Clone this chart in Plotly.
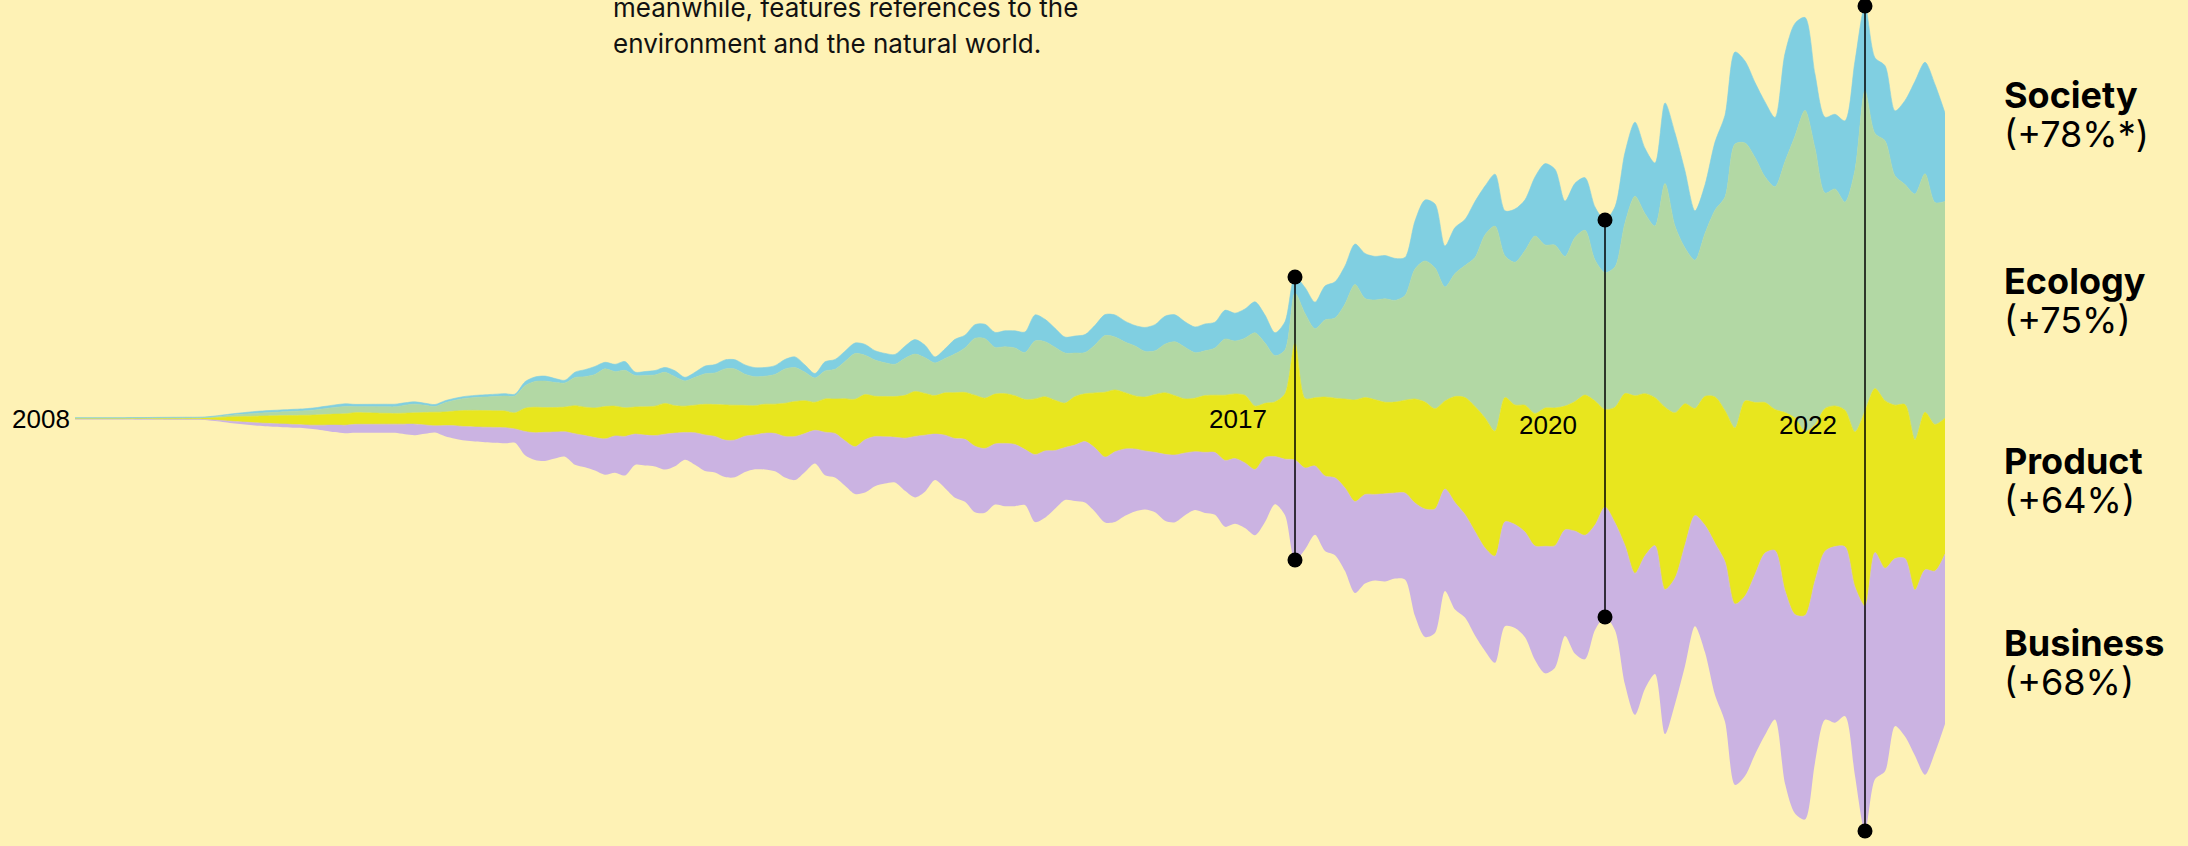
import plotly.graph_objects as go

# monthly periods, one value per period for each theme (mentions)
period = list(range(188))

society = [0.4, 0.4, 0.4, 0.4, 0.4, 0.4, 0.4, 0.4, 0.5, 0.5, 0.5, 0.5, 0.5, 0.5, 0.7, 1.0, 1.3, 1.6, 1.9, 2.0,
           2.0, 2.0, 2.0, 2.0, 2.1, 2.3, 2.5, 2.7, 2.3, 2.4, 2.5, 2.6, 2.7, 2.4, 2.3, 2.0, 2.0, 2.0, 2.0, 2.0,
           2.1, 2.2, 2.3, 2.4, 1.8, 4.0, 4.5, 5.0, 4.0, 2.7, 5.4, 7.0, 8.0, 6.6, 7.3, 8.8, 3.4, 3.9, 4.4, 4.9,
           6.0, 3.6, 5.1, 7.7, 8.3, 9.0, 9.3, 9.3, 9.1, 8.7, 8.8, 9.5, 10.7, 7.3, 4.5, 9.2, 9.8, 10.3, 10.5, 10.9,
           9.4, 9.4, 9.9, 12.2, 14.5, 12.5, 6.0, 9.7, 14.5, 12.7, 13.6, 14.4, 15.0, 16.0, 17.2, 20.5, 26.1, 22.4, 19.1, 16.0,
           17.0, 18.0, 19.6, 21.0, 22.1, 20.9, 20.5, 24.0, 26.2, 27.9, 27.0, 25.5, 25.7, 26.9, 25.8, 28.8, 27.9, 29.2, 31.0, 27.9,
           22.9, 28.4, 16.3, 26.0, 26.5, 34.0, 36.2, 38.0, 40.5, 45.0, 43.6, 43.3, 42.0, 38.0, 48.0, 61.0, 64.0, 41.0, 46.0, 46.0,
           56.0, 48.8, 52.0, 45.0, 53.2, 50.8, 59.0, 81.3, 75.8, 55.4, 54.2, 52.6, 53.0, 52.7, 60.0, 70.4, 74.0, 65.3, 63.0, 80.6,
           93.0, 77.0, 49.3, 48.5, 68.1, 81.7, 92.0, 82.0, 75.0, 74.9, 69.3, 108.0, 112.7, 93.0, 73.8, 75.8, 74.7, 81.3, 109.0, 85.0,
           75.7, 75.0, 65.0, 84.0, 112.7, 111.6, 118.0, 88.4]

ecology = [0.6, 0.6, 0.6, 0.6, 0.6, 0.6, 0.6, 0.6, 0.7, 0.7, 0.7, 0.7, 0.6, 0.6, 1.0, 1.5, 2.0, 2.4, 2.8, 3.2,
           3.5, 3.8, 4.2, 4.5, 5.1, 5.9, 6.7, 7.3, 6.0, 6.1, 6.3, 6.5, 6.6, 8.0, 8.7, 7.2, 5.7, 9.2, 10.8, 12.1,
           12.9, 13.6, 14.3, 15.0, 16.9, 22.5, 25.7, 26.5, 25.0, 24.1, 28.1, 30.5, 33.5, 37.7, 34.5, 37.5, 31.5, 31.4, 31.2, 31.1,
           28.9, 25.2, 27.8, 30.5, 31.6, 36.0, 36.2, 31.2, 28.9, 28.0, 29.7, 34.3, 33.9, 28.4, 24.3, 27.9, 29.7, 37.2, 45.8, 39.2,
           36.2, 33.7, 32.2, 37.0, 37.3, 35.7, 32.7, 34.3, 38.8, 44.5, 57.0, 59.5, 46.7, 46.9, 47.7, 47.0, 57.9, 55.0, 52.9, 50.0,
           43.5, 41.2, 48.0, 56.6, 52.9, 50.6, 49.9, 45.6, 43.7, 48.6, 53.9, 51.6, 45.5, 44.7, 47.2, 56.2, 52.8, 57.2, 73.3, 60.3,
           46.2, 43.8, 50.0, 85.0, 69.0, 77.0, 80.1, 95.0, 115.5, 99.0, 99.7, 103.4, 101.7, 104.7, 130.0, 141.0, 140.7, 114.0, 123.0, 132.0,
           149.0, 183.0, 205.0, 141.7, 142.8, 154.6, 177.5, 163.1, 162.8, 149.6, 164.0, 164.8, 141.0, 136.8, 140.3, 170.6, 199.7, 180.0, 171.6, 223.7,
           186.7, 155.7, 148.3, 163.0, 186.7, 213.6, 284.0, 258.0, 245.0, 225.7, 222.7, 251.0, 282.0, 321.0, 276.5, 215.5, 217.0, 208.0, 262.0, 320.0,
           255.0, 260.0, 229.3, 220.0, 245.7, 238.4, 222.0, 216.6]

product = [0.4, 0.4, 0.4, 0.4, 0.4, 0.4, 0.5, 0.5, 0.6, 0.7, 0.8, 0.9, 1.0, 1.4, 2.3, 3.5, 4.7, 5.6, 6.5, 7.3,
           7.9, 8.5, 9.1, 9.7, 10.2, 10.6, 11.0, 11.4, 11.7, 11.5, 11.2, 10.9, 10.7, 11.0, 11.3, 12.5, 13.6, 13.6, 14.7, 16.1,
           16.6, 16.6, 16.6, 16.6, 16.1, 23.2, 25.5, 24.7, 24.5, 24.7, 28.1, 28.4, 29.6, 32.3, 29.8, 28.6, 27.1, 28.3, 29.4, 30.8,
           27.4, 26.3, 27.6, 30.6, 31.9, 35.2, 34.7, 30.8, 29.3, 29.0, 29.3, 33.2, 35.0, 32.8, 28.0, 33.3, 34.4, 42.0, 47.4, 45.2,
           40.2, 40.3, 40.7, 42.8, 45.0, 41.7, 38.5, 42.3, 45.9, 46.9, 51.0, 50.3, 49.8, 49.8, 48.7, 50.0, 55.7, 54.2, 50.2, 44.4,
           48.5, 47.8, 55.0, 64.9, 61.8, 56.3, 53.1, 53.9, 57.8, 61.6, 59.3, 54.1, 53.5, 56.8, 57.3, 65.2, 64.6, 67.6, 63.3, 54.1,
           54.7, 65.3, 116.7, 69.5, 68.2, 79.0, 79.7, 89.0, 101.5, 97.0, 94.7, 91.6, 90.9, 92.8, 104.0, 107.0, 100.3, 88.0, 106.0, 117.0,
           125.0, 130.0, 125.0, 124.3, 119.5, 126.8, 132.5, 138.2, 137.7, 123.7, 129.6, 140.2, 124.0, 97.5, 115.6, 152.0, 177.5, 162.0, 148.0, 182.3,
           165.3, 141.3, 107.0, 129.0, 146.3, 151.0, 176.0, 195.0, 172.0, 150.6, 141.0, 178.0, 196.5, 184.0, 156.0, 142.7, 140.6, 136.5, 155.0, 195.0,
           164.0, 167.6, 153.4, 154.0, 150.3, 157.6, 146.6, 136.0]

business = [0.3, 0.3, 0.3, 0.3, 0.3, 0.3, 0.4, 0.4, 0.4, 0.5, 0.5, 0.5, 0.5, 0.6, 1.0, 1.5, 2.0, 2.4, 2.8, 3.0,
            3.1, 3.2, 3.2, 3.3, 4.0, 5.5, 7.0, 8.0, 8.3, 8.4, 8.5, 8.6, 8.7, 10.1, 11.0, 8.8, 6.7, 10.7, 13.0, 14.0,
            14.6, 15.0, 15.4, 15.7, 13.9, 23.8, 27.3, 28.6, 26.5, 25.0, 31.1, 31.8, 33.0, 35.9, 36.7, 39.1, 30.8, 30.4, 30.9, 35.4,
            33.1, 27.2, 32.0, 36.0, 36.0, 37.0, 37.3, 35.9, 34.4, 36.3, 37.9, 41.1, 43.6, 38.5, 33.2, 43.0, 44.1, 45.1, 47.3, 52.9,
            49.8, 46.8, 45.3, 52.7, 61.0, 56.6, 46.0, 53.0, 59.1, 62.5, 66.1, 64.3, 60.7, 62.8, 61.7, 55.5, 67.5, 66.8, 58.3, 52.4,
            55.9, 60.8, 63.8, 65.3, 70.3, 66.9, 62.5, 58.6, 60.0, 66.4, 67.2, 62.2, 58.4, 60.7, 62.3, 66.4, 65.3, 65.1, 65.7, 64.5,
            47.6, 56.2, 100.0, 81.5, 68.8, 75.0, 77.3, 83.0, 91.5, 89.0, 86.2, 87.7, 85.6, 86.5, 113.0, 128.0, 124.0, 102.0, 107.0, 103.0,
            104.0, 103.0, 106.7, 104.3, 103.4, 105.2, 114.0, 127.1, 122.0, 106.1, 122.6, 124.0, 105.0, 110.0, 107.4, 139.0, 141.5, 133.0, 128.3, 144.6,
            125.8, 121.0, 110.7, 126.8, 151.7, 160.0, 181.0, 180.0, 180.0, 182.0, 169.0, 193.0, 199.0, 204.0, 182.0, 168.6, 176.2, 169.5, 189.0, 225.0,
            226.7, 203.0, 167.6, 178.0, 165.7, 205.0, 181.4, 170.0]

# layers drawn bottom -> top
layers = [
    ("Business", "(+68%)", business, "#CBB3E2"),
    ("Product", "(+64%)", product, "#E8E61E"),
    ("Ecology", "(+75%)", ecology, "#B2D8A4"),
    ("Society", "(+78%*)", society, "#80CFE1"),
]

event_years = ["2017", "2020", "2022"]
event_period = [122, 153, 179]
event_label_y = [0, -6, -6]

label_y = {"Society": 324, "Ecology": 138, "Product": -42, "Business": -224}

BG = "#FEF2B5"

total = [sum(v) for v in zip(business, product, ecology, society)]
base = [-t / 2 for t in total]

fig = go.Figure()
fig.add_trace(go.Scatter(x=period, y=base, mode="lines",
                         line=dict(width=0, shape="spline", smoothing=0.8),
                         showlegend=False, hoverinfo="skip"))
cum = list(base)
for name, pct, values, color in layers:
    cum = [c + v for c, v in zip(cum, values)]
    fig.add_trace(go.Scatter(x=period, y=cum, mode="lines", name=name,
                             line=dict(width=0.6, color=color, shape="spline", smoothing=0.8),
                             fill="tonexty", fillcolor=color, showlegend=False))

annotations = []
for year, idx, ly in zip(event_years, event_period, event_label_y):
    half = total[idx] / 2
    fig.add_trace(go.Scatter(x=[idx, idx], y=[-half, half], mode="lines+markers",
                             line=dict(color="black", width=1.5),
                             marker=dict(color="black", size=15),
                             showlegend=False, hoverinfo="skip"))
    annotations.append(dict(x=idx, y=ly, xref="x", yref="y", text=year, showarrow=False,
                            xanchor="right", yanchor="middle", xshift=-26,
                            font=dict(family="Liberation Sans, Arial", size=26, color="black")))

annotations.append(dict(x=0, y=0, xref="x", yref="y", text="2008", showarrow=False,
                        xanchor="right", yanchor="middle", xshift=-3,
                        font=dict(family="Liberation Sans, Arial", size=26, color="black")))

# theme name and change, stacked tightly at the right end of each layer
for name, pct, values, color in layers:
    y0 = label_y[name]
    annotations.append(dict(x=1.0305, y=y0, xref="paper", yref="y", text="<b>" + name + "</b>",
                            showarrow=False, xanchor="left", yanchor="middle",
                            font=dict(family="Inter", size=36, color="black")))
    annotations.append(dict(x=1.0305, y=y0 - 39, xref="paper", yref="y", text=pct,
                            showarrow=False, xanchor="left", yanchor="middle",
                            font=dict(family="Inter", size=36, color="black")))

intro = ["meanwhile, features references to the", "environment and the natural world."]
for k, line in enumerate(intro):
    annotations.append(dict(x=53.6, y=411.5 - 36 * k, xref="x", yref="y", text=line,
                            showarrow=False, xanchor="left", yanchor="middle",
                            font=dict(family="Inter", size=26, color="#111111")))

fig.update_layout(
    width=2188, height=846,
    margin=dict(l=75, r=243, t=0, b=0),
    paper_bgcolor=BG, plot_bgcolor=BG,
    xaxis=dict(range=[0, 187], visible=False, fixedrange=True),
    yaxis=dict(range=[-427.5, 418.5], visible=False, fixedrange=True),
    annotations=annotations,
    showlegend=False,
)

fig.write_html("out.html", config={"displayModeBar": False},
               post_script="document.body.style.margin='0px';document.body.style.background='" + BG + "';")
